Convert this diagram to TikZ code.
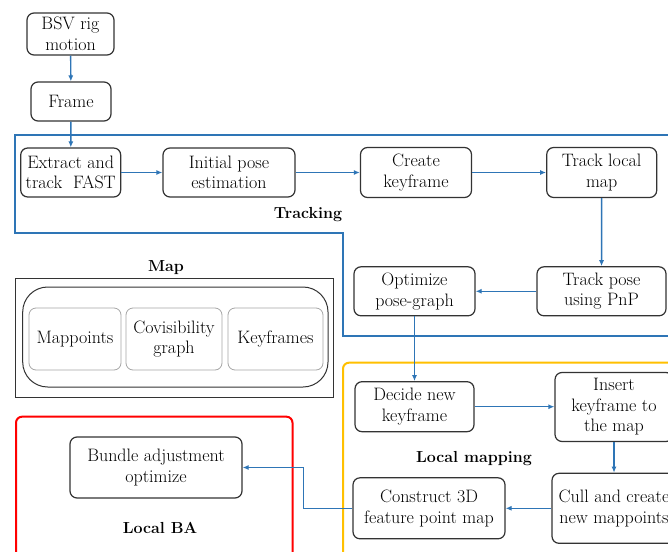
\documentclass[tikz,border=0pt]{standalone}
\usetikzlibrary{arrows.meta}
\definecolor{flowblue}{HTML}{2E75B6}
\definecolor{lmorange}{HTML}{FFC000}
\definecolor{bared}{HTML}{FF0000}
\definecolor{boxgray}{HTML}{333333}
\begin{document}
\begin{tikzpicture}[x=1pt,y=-1pt,
  procbox/.style={draw=boxgray,line width=1.2pt,rounded corners=7pt,fill=white,
    align=center,inner sep=0pt,font=\fontsize{18}{20.5}\selectfont},
  mapbox/.style={draw=gray!70,line width=0.8pt,rounded corners=7pt,fill=white,
    align=center,inner sep=0pt,font=\fontsize{18}{20.5}\selectfont},
  flow/.style={draw=flowblue,line width=1.4pt,-{Latex[length=6pt,width=5pt]}},
  region/.style={line width=2pt},
  lbl/.style={font=\fontsize{16}{18}\selectfont\bfseries,inner sep=0pt}]
\useasboundingbox (0,0) rectangle (668,551);
\clip (0,0) rectangle (668,551);
\fill[white] (0,0) rectangle (668,551);

% regions
\draw[region,flowblue] (700,135) -- (15,135) -- (15,232.7) -- (342.7,232.7) -- (342.7,336) -- (700,336);
\draw[region,lmorange,rounded corners=6pt] (343,600) -- (343,362.7) -- (700,362.7);
\draw[region,bared,rounded corners=6pt] (16,600) -- (16,416.7) -- (292.5,416.7) -- (292.5,600);

% map
\draw[line width=1pt,boxgray] (15,278) rectangle (333,397);
\draw[line width=1pt,boxgray,rounded corners=25pt] (22.7,287) rectangle (328,387);
\node[mapbox,minimum width=92pt,minimum height=62pt] (mpts) at (75,339) {Mappoints};
\node[mapbox,minimum width=96pt,minimum height=62pt] (covis) at (174,339) {Covisibility\\graph};
\node[mapbox,minimum width=95pt,minimum height=62pt] (kfs) at (275.5,339) {Keyframes};
\node[lbl] (maplbl) at (166,268) {Map};

% labels
\node[lbl] (trk) at (308,215) {Tracking};
\node[lbl] (lmap) at (474,459) {Local mapping};
\node[lbl] (lba) at (160,528) {Local BA};

% process nodes
\node[procbox,minimum width=87pt,minimum height=42pt] (bsv) at (70.5,34) {BSV rig\\motion};
\node[procbox,minimum width=80pt,minimum height=39pt] (frame) at (71,101.5) {Frame};
\node[procbox,minimum width=100pt,minimum height=49pt] (extract) at (70.7,172.5) {Extract and\\track\ \ FAST};
\node[procbox,minimum width=132pt,minimum height=49pt] (init) at (229,172.5) {Initial pose\\estimation};
\node[procbox,minimum width=111pt,minimum height=50pt] (create) at (416,172.5) {Create\\keyframe};
\node[procbox,minimum width=110pt,minimum height=50pt] (tlm) at (601.7,172.5) {Track local\\map};
\node[procbox,minimum width=121pt,minimum height=49pt] (opt) at (414.5,291.3) {Optimize\\pose-graph};
\node[procbox,minimum width=129pt,minimum height=49pt] (tpose) at (601.5,291.3) {Track pose\\using PnP};
\node[procbox,minimum width=119pt,minimum height=50pt] (decide) at (414.5,406.7) {Decide new\\keyframe};
\node[procbox,minimum width=118pt,minimum height=69pt] (insert) at (614,407) {Insert\\keyframe to\\the map};
\node[procbox,minimum width=124pt,minimum height=70pt] (cull) at (614,508.3) {Cull and create\\new mappoints};
\node[procbox,minimum width=152pt,minimum height=61pt] (cons) at (429,508.3) {Construct 3D\\feature point map};
\node[procbox,minimum width=172pt,minimum height=61pt] (bund) at (156,467.5) {Bundle adjustment\\optimize};

% connectors
\draw[flow] (bsv) -- (frame);
\draw[flow] (frame) -- (extract);
\draw[flow] (extract) -- (init);
\draw[flow] (init) -- (create);
\draw[flow] (create) -- (tlm);
\draw[flow] (tlm) -- (tpose);
\draw[flow] (tpose) -- (opt);
\draw[flow] (opt) -- (decide);
\draw[flow] (decide.east) -- (decide.east -| insert.west);
\draw[flow] (insert) -- (cull);
\draw[flow] (cull.west) -- (cull.west -| cons.east);
\coordinate (bend) at (303.3,508.3);
\draw[flow] (cons.west) -- (bend) |- (bund.east);
\end{tikzpicture}
\end{document}
